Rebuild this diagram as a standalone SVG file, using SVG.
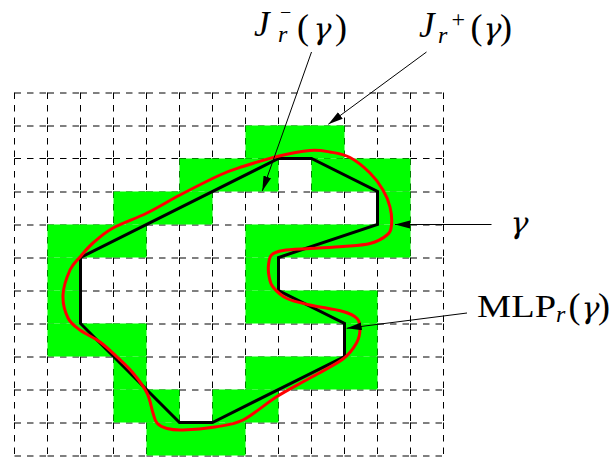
<svg xmlns="http://www.w3.org/2000/svg" width="611" height="458" viewBox="0 0 611 458">
<defs>
<style>
.v{stroke:#000;stroke-width:1;stroke-dasharray:6.5 6 6.5 6 6.5 1.5;fill:none}
.h{stroke:#000;stroke-width:1;stroke-dasharray:6.5 6 6.5 6 6.5 1.5;fill:none}
.g{fill:#00ff00}
.mlp{fill:none;stroke:#000;stroke-width:3;stroke-linejoin:miter}
.red{fill:none;stroke:#ff0000;stroke-width:3}
.conn{stroke:#000;stroke-width:1;fill:none}
.t{font-family:"Liberation Serif","Times New Roman",serif;fill:#000}
.i{font-style:italic}
.gm{font-family:"DejaVu Serif","Liberation Serif",serif;font-style:normal;font-size:30px;fill:#000}
</style>
<marker id="arr" markerUnits="userSpaceOnUse" markerWidth="16" markerHeight="10" refX="15" refY="4" orient="auto">
<path d="M0,0 L15,4 L0,8 Z" fill="#000"/>
</marker>
</defs>
<rect width="611" height="458" fill="#fff"/>
<g id="grid">
<path class="v" d="M14.5,92.5V455.5M47.5,92.5V455.5M80.5,92.5V455.5M113.5,92.5V455.5M146.5,92.5V455.5M179.5,92.5V455.5M212.5,92.5V455.5M245.5,92.5V455.5M278.5,92.5V455.5M311.5,92.5V455.5M344.5,92.5V455.5M377.5,92.5V455.5M410.5,92.5V455.5M443.5,92.5V455.5"/>
<path class="h" d="M14.5,93H443.5M14.5,126H443.5M14.5,158.5H443.5M14.5,192H443.5M14.5,225H443.5M14.5,258H443.5M14.5,291H443.5M14.5,324H443.5M14.5,357H443.5M14.5,390H443.5M14.5,423H443.5M14.5,456H443.5"/>
</g>
<g id="cells">
<rect class="g" x="245.5" y="125.5" width="99" height="33"/>
<rect class="g" x="179.5" y="158.5" width="99" height="33"/>
<rect class="g" x="311.5" y="158.5" width="99" height="33"/>
<rect class="g" x="113.5" y="191.5" width="99" height="33"/>
<rect class="g" x="377.5" y="191.5" width="33" height="33"/>
<rect class="g" x="47.5" y="224.5" width="99" height="33"/>
<rect class="g" x="245.5" y="224.5" width="165" height="33"/>
<rect class="g" x="47.5" y="257.5" width="33" height="33"/>
<rect class="g" x="245.5" y="257.5" width="33" height="33"/>
<rect class="g" x="47.5" y="290.5" width="33" height="33"/>
<rect class="g" x="245.5" y="290.5" width="132" height="33"/>
<rect class="g" x="47.5" y="323.5" width="99" height="33"/>
<rect class="g" x="344.5" y="323.5" width="33" height="33"/>
<rect class="g" x="113.5" y="356.5" width="33" height="33"/>
<rect class="g" x="245.5" y="356.5" width="132" height="33"/>
<rect class="g" x="113.5" y="389.5" width="66" height="33"/>
<rect class="g" x="212.5" y="389.5" width="66" height="33"/>
<rect class="g" x="146.5" y="422.5" width="99" height="33"/>
</g>
<g id="mlp">
<polygon class="mlp" points="80.5,257.5 278.5,158.5 311.5,158.5 377.5,191.5 377.5,224.5 278.5,257.5 278.5,290.5 344.5,323.5 344.5,356.5 212.5,422.5 179.5,422.5 80.5,323.5"/>
</g>
<g id="gamma-curve">
<path class="red" d="M310,150.5 C318.83,149.75 323.33,150.83 330,152 C336.67,153.17 343.33,154 350,157.5 C356.67,161 364.5,167.58 370,173 C375.5,178.42 379.67,184.33 383,190 C386.33,195.67 388.58,201.17 390,207 C391.42,212.83 392,220.33 391.5,225 C391,229.67 390.58,231.92 387,235 C383.42,238.08 377.33,241.58 370,243.5 C362.67,245.42 353,245.67 343,246.5 C333,247.33 320,247.83 310,248.5 C300,249.17 289.42,249.42 283,250.5 C276.58,251.58 273.92,252.58 271.5,255 C269.08,257.42 268.92,261.5 268.5,265 C268.08,268.5 268.25,272.33 269,276 C269.75,279.67 270,283.25 273,287 C276,290.75 280.83,295.5 287,298.5 C293.17,301.5 300.67,302.83 310,305 C319.33,307.17 335.17,309.25 343,311.5 C350.83,313.75 354.17,315.58 357,318.5 C359.83,321.42 360.08,324.92 360,329 C359.92,333.08 359.33,338 356.5,343 C353.67,348 350.75,353.17 343,359 C335.25,364.83 321,371.75 310,378 C299,384.25 288.17,389.5 277,396.5 C265.83,403.5 253.33,414.92 243,420 C232.67,425.08 225,425.33 215,427 C205,428.67 191,429.75 183,430 C175,430.25 171.33,429.67 167,428.5 C162.67,427.33 159.33,425.58 157,423 C154.67,420.42 154.67,418 153,413 C151.33,408 150.33,399.67 147,393 C143.67,386.33 138,379 133,373 C128,367 122.5,362.17 117,357 C111.5,351.83 106.17,346.5 100,342 C93.83,337.5 85.33,334 80,330 C74.67,326 70.83,323.83 68,318 C65.17,312.17 62.67,303 63,295 C63.33,287 67.17,276.33 70,270 C72.83,263.67 76.17,261.5 80,257 C83.83,252.5 87.5,247.83 93,243 C98.5,238.17 104,233 113,228 C122,223 135.83,218.5 147,213 C158.17,207.5 167.83,201.33 180,195 C192.17,188.67 209.5,179.75 220,175 C230.5,170.25 233.5,169.58 243,166.5 C252.5,163.42 265.83,159.17 277,156.5 C288.17,153.83 301.17,151.25 310,150.5 Z"/>
</g>
<g id="connectors">
<line class="conn" x1="311.5" y1="52" x2="262.3" y2="191" marker-end="url(#arr)"/>
<line class="conn" x1="426.5" y1="52" x2="328.3" y2="124.3" marker-end="url(#arr)"/>
<line class="conn" x1="491.5" y1="224.5" x2="395" y2="224.5" marker-end="url(#arr)"/>
<line class="conn" x1="467" y1="313" x2="346.7" y2="328.3" marker-end="url(#arr)"/>
</g>
<g id="label-jminus">
<text class="t"><tspan class="i" x="254" y="36" font-size="35">J</tspan><tspan x="280" y="18.5" font-size="20">−</tspan><tspan class="i" x="278" y="42" font-size="24">r</tspan><tspan x="297" y="38.5" font-size="36">(</tspan><tspan x="335" y="38.5" font-size="36">)</tspan></text>
<text class="gm" transform="translate(312,38.5) skewX(-14)">γ</text>
</g>
<g id="label-jplus">
<text class="t"><tspan class="i" x="419" y="37" font-size="35">J</tspan><tspan x="451.5" y="27" font-size="24">+</tspan><tspan class="i" x="438" y="43" font-size="24">r</tspan><tspan x="470.5" y="39" font-size="36">(</tspan><tspan x="500" y="39" font-size="36">)</tspan></text>
<text class="gm" transform="translate(482,39) skewX(-14)">γ</text>
</g>
<g id="label-gamma">
<text class="gm" transform="translate(509,233) skewX(-14)">γ</text>
</g>
<g id="label-mlp">
<text class="t"><tspan x="477" y="317" font-size="32" textLength="79" lengthAdjust="spacingAndGlyphs">MLP</tspan><tspan class="i" x="556" y="322" font-size="24">r</tspan><tspan x="568.5" y="318" font-size="36">(</tspan><tspan x="598" y="318" font-size="36">)</tspan></text>
<text class="gm" transform="translate(580,318) skewX(-14)">γ</text>
</g>
</svg>
